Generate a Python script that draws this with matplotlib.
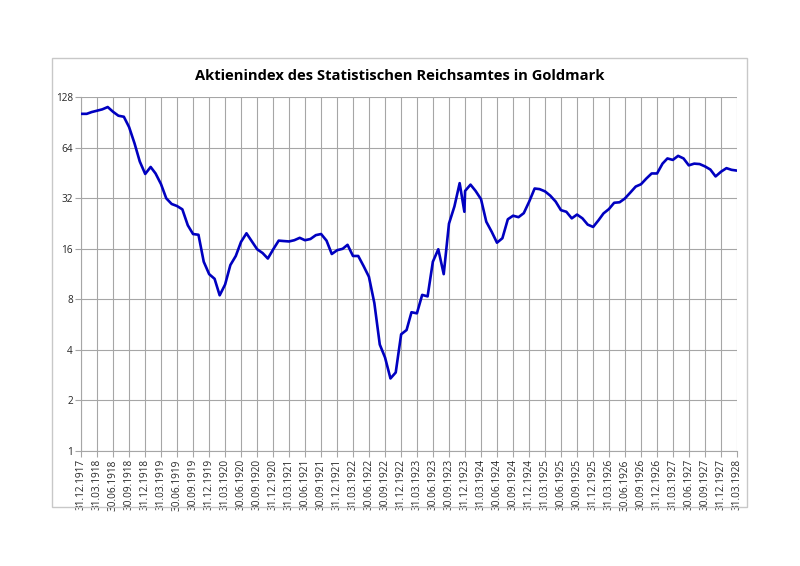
import matplotlib
matplotlib.use("Agg")
import matplotlib.pyplot as plt
import matplotlib.dates as mdates
from matplotlib.patches import Rectangle
from matplotlib.ticker import FixedLocator, FixedFormatter, NullLocator
import pandas as pd

title = "Aktienindex des Statistischen Reichsamtes in Goldmark"

# monthly values (month ends Dec 1917 .. Mar 1928); Dec 1923 has two readings
values = [
    102, 102, 104.5, 106.5, 108.5, 112, 105, 99.4, 98, 85, 68, 53,
    44.7, 49.2, 45, 38.9, 32, 29.6, 28.8, 27.5, 22.1, 19.6, 19.4, 13.4,
    11.3, 10.6, 8.45, 9.8, 12.8, 14.5, 17.6, 19.8, 17.7, 15.9, 15.1, 14.0,
    15.9, 17.9, 17.8, 17.7, 18.0, 18.6, 18.0, 18.3, 19.3, 19.6, 17.9, 14.9,
    15.7, 16.0, 16.9, 14.5, 14.5, 12.6, 10.9, 7.6, 4.3, 3.6, 2.7, 2.93,
    4.95, 5.25, 6.7, 6.6, 8.5, 8.33, 13.4, 15.9, 11.3, 22.6, 28.6, 39.4,
    26.6, 35.4, 38.6, 35.4, 31.6, 23.2, 20.2, 17.4, 18.5, 24, 25.2, 24.7,
    26.1, 30.6, 36.6, 36.3, 35.2, 33.2, 30.6, 27.2, 26.6, 24.3, 25.6, 24.3,
    22.3, 21.6, 23.7, 26, 27.6, 30.1, 30.3, 31.9, 34.6, 37.6, 38.8, 42,
    45, 45, 51.5, 55.3, 54.2, 57.3, 55.3, 50.3, 51.5, 51.2, 49.6, 47.5,
    43.2, 46.1, 48.4, 47.3, 46.8,
]
month_ends = list(pd.date_range("1917-12-31", "1928-03-31", freq="ME"))
extra_date = pd.Timestamp("1923-12-27")
dates = []
for d in month_ends:
    if d == pd.Timestamp("1923-12-31"):
        dates.append(extra_date)
    dates.append(d)

tick_dates = list(pd.date_range("1917-12-31", "1928-03-31", freq="QE"))
tick_labels = [d.strftime("%d.%m.%Y") for d in tick_dates]
y_ticks = [1, 2, 4, 8, 16, 32, 64, 128]

fig = plt.figure(figsize=(8, 5.66), dpi=100)
fig.patch.set_facecolor("white")
fig.patches.append(Rectangle((0.0646, 0.1042), 0.869, 0.7938, transform=fig.transFigure,
                             fill=False, edgecolor="#c8c8c8", linewidth=1.0))
ax = fig.add_axes([0.1016, 0.2035, 0.8196, 0.6246])

ax.plot(mdates.date2num(dates), values, color="#0000c0", linewidth=1.9,
        solid_joinstyle="round", zorder=3)

ax.set_yscale("log", base=2)
ax.set_ylim(1, 128)
ax.yaxis.set_major_locator(FixedLocator(y_ticks))
ax.yaxis.set_major_formatter(FixedFormatter([str(v) for v in y_ticks]))
ax.yaxis.set_minor_locator(NullLocator())

xt = mdates.date2num(tick_dates)
ax.set_xlim(xt[0], xt[-1])
ax.set_xticks(xt)
ax.set_xticklabels(tick_labels, rotation=90, fontsize=7.2, family="Open Sans", color="#262626")
for lab in ax.get_yticklabels():
    lab.set_family("Open Sans")
    lab.set_fontsize(7.2)
    lab.set_color("#262626")

ax.grid(True, which="major", color="#a6a6a6", linewidth=0.8)
ax.set_axisbelow(True)
for s in ["top", "right"]:
    ax.spines[s].set_visible(False)
for s in ["left", "bottom"]:
    ax.spines[s].set_color("#a6a6a6")
    ax.spines[s].set_linewidth(0.8)
ax.tick_params(axis="both", length=4, width=0.8, color="#a6a6a6", pad=2)

fig.text(0.5, 0.866, title, ha="center", va="center", fontsize=10.6,
         fontweight="bold", family="Open Sans", color="black")

fig.savefig("out.png", dpi=100)
